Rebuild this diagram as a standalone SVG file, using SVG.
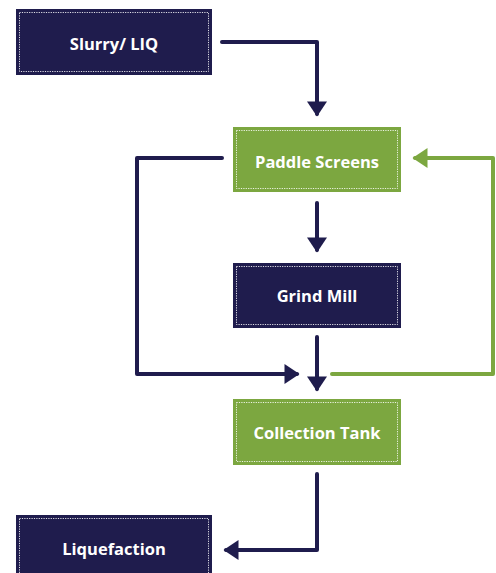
<svg xmlns="http://www.w3.org/2000/svg" width="496" height="573" viewBox="0 0 496 573">
<style>
.navy{fill:#1f1c4d}
.green{fill:#7ca740}
.in{fill:none;stroke:#ffffff;stroke-width:1;stroke-dasharray:1.2 1.2;opacity:0.85}
.t{font-family:"Open Sans","Liberation Sans",sans-serif;font-weight:700;font-size:16.5px;fill:#ffffff;text-anchor:middle;dominant-baseline:central}
.cn{fill:none;stroke:#1f1c4d;stroke-width:4;stroke-linecap:round;stroke-linejoin:round}
.cg{fill:none;stroke:#7ca740;stroke-width:4;stroke-linecap:round;stroke-linejoin:round}
</style>
<defs>
<marker id="an" markerUnits="userSpaceOnUse" markerWidth="20" markerHeight="20" viewBox="0 0 12 16" refX="10" refY="8" orient="auto">
<path d="M0,0 L12,8 L0,16 Z" fill="#1f1c4d"/>
</marker>
<marker id="ag" markerUnits="userSpaceOnUse" markerWidth="20" markerHeight="20" viewBox="0 0 12 16" refX="10" refY="8" orient="auto">
<path d="M0,0 L12,8 L0,16 Z" fill="#7ca740"/>
</marker>
</defs>
<g id="connectors">
<path class="cn" d="M222,42 H317 V114" marker-end="url(#an)"/>
<path class="cn" d="M222,158 H137 V374 H297" marker-end="url(#an)"/>
<path class="cg" d="M332,374 H493 V158 H415" marker-end="url(#ag)"/>
<path class="cn" d="M317,203 V250" marker-end="url(#an)"/>
<path class="cn" d="M317,337 V389" marker-end="url(#an)"/>
<path class="cn" d="M317,474 V550 H226" marker-end="url(#an)"/>
</g>
<g id="slurry">
<rect class="navy" x="16" y="9" width="196" height="66"/>
<rect class="in" x="19.5" y="12.5" width="189" height="59"/>
<text class="t" x="114" y="43">Slurry/ LIQ</text>
</g>
<g id="paddle">
<rect class="green" x="233" y="127" width="168" height="65"/>
<rect class="in" x="236.5" y="130.5" width="161" height="58"/>
<text class="t" x="317" y="161">Paddle Screens</text>
</g>
<g id="grind">
<rect class="navy" x="233" y="263" width="168" height="65"/>
<rect class="in" x="236.5" y="266.5" width="161" height="58"/>
<text class="t" x="317" y="295">Grind Mill</text>
</g>
<g id="collection">
<rect class="green" x="233" y="399" width="168" height="66"/>
<rect class="in" x="236.5" y="402.5" width="161" height="59"/>
<text class="t" x="317" y="432">Collection Tank</text>
</g>
<g id="liquefaction">
<rect class="navy" x="16" y="515" width="196" height="66"/>
<rect class="in" x="19.5" y="518.5" width="189" height="59"/>
<text class="t" x="114" y="548">Liquefaction</text>
</g>
</svg>
